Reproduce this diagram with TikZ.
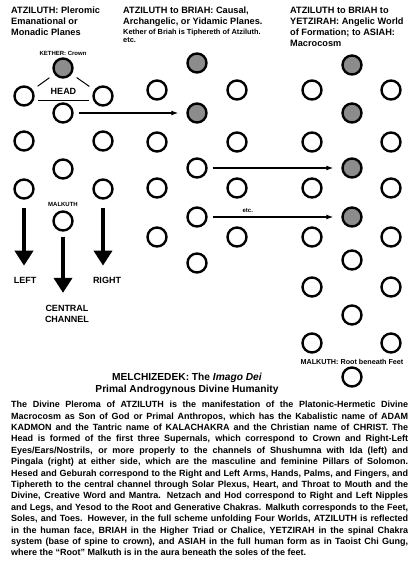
\documentclass[tikz,border=0pt]{standalone}
\usepackage{fontspec}
\setmainfont{Liberation Sans}
\usetikzlibrary{arrows.meta,positioning}
\hyphenpenalty=10000
\exhyphenpenalty=10000
\tikzstyle{sefira} = [circle, draw, line width=2.4pt, minimum size=19pt, inner sep=0pt, fill=white]
\tikzstyle{heading} = [anchor=north west, align=left, inner sep=0pt,
    font=\bfseries\fontsize{9.2}{11}\selectfont]
\tikzstyle{tag} = [inner sep=0pt, align=center, font=\bfseries\fontsize{9}{11.5}\selectfont]
\tikzstyle{note} = [inner sep=0pt, font=\bfseries\fontsize{6}{7}\selectfont]
\tikzstyle{channel} = [draw, line width=1pt, shorten <=3pt, shorten >=3pt]
\tikzstyle{link} = [draw, line width=1.2pt, -{Latex[length=7pt,width=5pt]}, shorten <=5pt, shorten >=8pt]
\tikzstyle{pillar} = [draw, line width=4pt, -{Triangle[width=18pt,length=15pt]}]

\begin{document}
\begin{tikzpicture}[x=1pt, y=-1pt]
    \useasboundingbox (0,0) rectangle (412,563);
    % Place nodes
    % ATZILUTH tree
    \foreach \y/\f [count=\i] in {68/black!45, 113/white, 169/white, 221/white}
        \node [sefira, fill=\f] (atzC\i) at (63,\y) {};
    \foreach \y [count=\i] in {96,141,189} {
        \node [sefira] (atzL\i) at (24,\y) {};
        \node [sefira] (atzR\i) at (103,\y) {};
    }
    % BRIAH tree
    \foreach \y/\f [count=\i] in {63/black!45, 113/black!45, 168/white, 217/white, 263/white}
        \node [sefira, fill=\f] (briC\i) at (197,\y) {};
    \foreach \y [count=\i] in {90,142,188,237} {
        \node [sefira] (briL\i) at (157,\y) {};
        \node [sefira] (briR\i) at (237,\y) {};
    }
    % YETZIRAH tree
    \foreach \y/\f [count=\i] in {65/black!45, 113/black!45, 168/black!45, 217/black!45, 260/white, 315/white, 377/white}
        \node [sefira, fill=\f] (yetC\i) at (352,\y) {};
    \foreach \y [count=\i] in {90,142,188,237,287,343} {
        \node [sefira] (yetL\i) at (312,\y) {};
        \node [sefira] (yetR\i) at (391,\y) {};
    }
    % headings and labels
    \node [heading] (atzHead) at (11,6.5) {ATZILUTH: Pleromic\\Emanational or\\Monadic Planes};
    \node [heading] (briHead) at (123,6.5) {ATZILUTH to BRIAH: Causal,\\Archangelic, or Yidamic Planes.};
    \node [heading, font=\bfseries\fontsize{7.4}{8}\selectfont] (briNote) at (123,29) {Kether of Briah is Tiphereth of Atziluth.\\etc.};
    \node [heading] (yetHead) at (290,6.5) {ATZILUTH to BRIAH to\\YETZIRAH: Angelic World\\of Formation; to ASIAH:\\Macrocosm};
    \node [note, above=2pt of atzC1] (kether) {KETHER: Crown};
    \node [note, above=4pt of atzC4] (malkuth) {MALKUTH};
    \node [note, font=\bfseries\fontsize{7.2}{8}\selectfont, above=2pt of yetC7] (root) {MALKUTH: Root beneath Feet};
    \node [tag] (left) at (25,280) {LEFT};
    \node [tag] (right) at (107,280) {RIGHT};
    \node [tag] (central) at (67,314) {CENTRAL\\CHANNEL};
    \node [tag, font=\bfseries\fontsize{10.2}{11.8}\selectfont] (title) at (187,384)
        {MELCHIZEDEK: The \textit{Imago Dei}\\Primal Androgynous Divine Humanity};
    \node [anchor=north west, inner sep=0pt, text width=397pt, align=justify,
        font=\bfseries\fontsize{9}{11.4}\selectfont] (body) at (11,401)
        {The Divine Pleroma of ATZILUTH is the manifestation of the Platonic-Hermetic Divine\linebreak
        Macrocosm as Son of God or Primal Anthropos, which has the Kabalistic name of ADAM\linebreak
        KADMON and the Tantric name of KALACHAKRA and the Christian name of CHRIST. The\linebreak
        Head is formed of the first three Supernals, which correspond to Crown and Right-Left\linebreak
        Eyes/Ears/Nostrils, or more properly to the channels of Shushumna with Ida (left) and\linebreak
        Pingala (right) at either side, which are the masculine and feminine Pillars of Solomon.\linebreak
        Hesed and Geburah correspond to the Right and Left Arms, Hands, Palms, and Fingers, and\linebreak
        Tiphereth to the central channel through Solar Plexus, Heart, and Throat to Mouth and the\linebreak
        Divine, Creative Word and Mantra. Netzach and Hod correspond to Right and Left Nipples\linebreak
        and Legs, and Yesod to the Root and Generative Chakras. Malkuth corresponds to the Feet,\linebreak
        Soles, and Toes. However, in the full scheme unfolding Four Worlds, ATZILUTH is reflected\linebreak
        in the human face, BRIAH in the Higher Triad or Chalice, YETZIRAH in the spinal Chakra\linebreak
        system (base of spine to crown), and ASIAH in the full human form as in Taoist Chi Gung,\linebreak
        where the “Root” Malkuth is in the aura beneath the soles of the feet.};
    % Draw edges
    \path [channel, shorten <=6pt, shorten >=6pt] (atzC1) -- (atzL1);
    \path [channel, shorten <=6pt, shorten >=6pt] (atzC1) -- (atzR1);
    \path [channel] ([yshift=-4pt]atzL1.east) -- node [tag, above=5pt] {HEAD} ([yshift=-4pt]atzR1.west);
    \path [link] (atzC2) -- (briC2);
    \path [link] (briC3) -- (yetC3);
    \path [link] (briC4) -- node [note, above=4pt, pos=0.3] {etc.} (yetC4);
    \path [pillar, shorten <=8pt, shorten >=11pt] (atzL3) -- (atzL3 |- left.north);
    \path [pillar, shorten <=5pt, shorten >=12pt] (atzC4) -- (atzC4 |- central.north);
    \path [pillar, shorten <=8pt, shorten >=11pt] (atzR3) -- (atzR3 |- right.north);
\end{tikzpicture}
\end{document}
